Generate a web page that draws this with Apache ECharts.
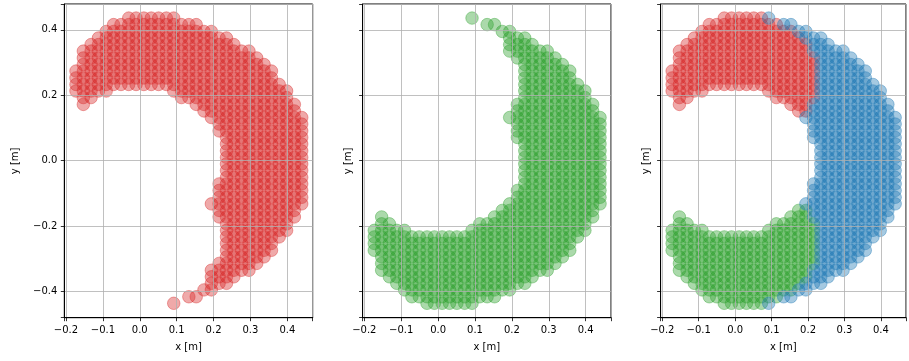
<!DOCTYPE html>
<html>
<head>
<meta charset="utf-8">
<script src="https://cdn.jsdelivr.net/npm/echarts@6/dist/echarts.min.js"></script>
<style>
  html, body { margin: 0; padding: 0; background: #fff; }
  #chart { width: 909px; height: 361px; }
</style>
</head>
<body>
<div id="chart"></div>
<script>
// grid positions of the sample points (metres)
const colX = [-0.173, -0.153, -0.132, -0.112, -0.091, -0.071, -0.051, -0.030, -0.010, 0.011,
  0.031, 0.051, 0.072, 0.092, 0.113, 0.133, 0.153, 0.174, 0.194, 0.215,
  0.235, 0.255, 0.276, 0.296, 0.317, 0.337, 0.357, 0.378, 0.398, 0.419, 0.439]
const rowY = [0.436, 0.416, 0.395, 0.375, 0.355, 0.335, 0.314, 0.294, 0.274, 0.253,
  0.233, 0.213, 0.193, 0.172, 0.152, 0.132, 0.112, 0.091, 0.071, 0.051,
  0.030, 0.010, -0.010, -0.030, -0.051, -0.071, -0.091, -0.112, -0.132, -0.152,
  -0.172, -0.193, -0.213, -0.233, -0.253, -0.274, -0.294, -0.314, -0.335, -0.355,
  -0.375, -0.395, -0.416, -0.436]

// runs of filled cells: [row, firstCol, lastCol]
const redRows = [[0,7,13],[1,5,16],[2,4,18],[3,3,20],[4,2,21],[5,1,23],[6,1,24],[7,1,25],[8,0,26],[9,0,26],[10,0,27],
  [11,0,4],[11,13,28],[12,1,2],[12,14,28],[13,1,1],[13,16,29],[14,17,29],[15,18,30],[16,19,30],[17,19,30],
  [18,20,30],[19,20,30],[20,20,30],[21,20,30],[22,20,30],[23,20,30],[24,20,30],[25,19,30],[26,19,30],[27,19,30],
  [28,18,30],[29,19,29],[30,19,29],[31,20,28],[32,20,28],[33,20,27],[34,20,26],[35,20,26],[36,20,25],[37,19,24],
  [38,18,23],[39,18,21],[40,18,20],[41,17,18],[42,15,16],[43,13,13]]

const greenRows = [[0,13,13],[1,15,16],[2,17,18],[3,18,20],[4,18,21],[5,18,23],[6,19,24],[7,20,25],[8,20,26],[9,20,26],
  [10,20,27],[11,20,28],[12,20,28],[13,19,29],[14,19,29],[15,18,30],[16,19,30],[17,19,30],[18,19,30],[19,20,30],
  [20,20,30],[21,20,30],[22,20,30],[23,20,30],[24,20,30],[25,20,30],[26,19,30],[27,19,30],[28,18,30],[29,17,29],
  [30,1,1],[30,16,29],[31,1,2],[31,14,28],[32,0,4],[32,13,28],[33,0,27],[34,0,26],[35,0,26],[36,1,25],
  [37,1,24],[38,1,23],[39,2,21],[40,3,20],[41,4,18],[42,5,16],[43,7,13]]

// clustered result (third panel)
const clusterRedRows = [[0,7,12],[1,5,14],[2,4,16],[3,3,17],[4,2,18],[5,1,18],[6,1,19],[7,1,19],[8,0,19],[9,0,19],
  [10,0,19],[11,0,4],[11,13,19],[12,1,2],[12,14,19],[13,1,1],[13,16,18],[14,17,18]]
const clusterGreenRows = [[29,17,18],[30,1,1],[30,16,18],[31,1,2],[31,14,19],[32,0,4],[32,13,19],[33,0,19],[34,0,19],
  [35,0,19],[36,1,19],[37,1,19],[38,1,18],[39,2,18],[40,3,17],[41,4,16],[42,5,14],[43,7,12]]
const clusterBlueRows = [[0,13,13],[1,15,16],[2,17,18],[3,18,20],[4,19,21],[5,19,23],[6,20,24],[7,20,25],[8,20,26],
  [9,20,26],[10,20,27],[11,20,28],[12,20,28],[13,19,29],[14,19,29],[15,18,30],[16,19,30],[17,19,30],[18,19,30],
  [19,20,30],[20,20,30],[21,20,30],[22,20,30],[23,20,30],[24,20,30],[25,19,30],[26,19,30],[27,19,30],[28,18,30],
  [29,19,29],[30,19,29],[31,20,28],[32,20,28],[33,20,27],[34,20,26],[35,20,26],[36,20,25],[37,20,24],[38,19,23],
  [39,19,21],[40,18,20],[41,17,18],[42,15,16],[43,13,13]]

const xTicks = [-0.2, -0.1, 0.0, 0.1, 0.2, 0.3, 0.4]
const yTicks = [-0.4, -0.2, 0.0, 0.2, 0.4]

function points(rows) {
  const out = []
  rows.forEach(([r, a, b]) => {
    for (let c = a; c <= b; c++) out.push([colX[c], rowY[r]])
  })
  return out
}

function fmt(v) {
  const hit = xTicks.concat(yTicks).some((t) => Math.abs(t - v) < 1e-6)
  if (!hit) return ''
  const s = Math.abs(v).toFixed(1)
  return v < -1e-9 ? '\u2212' + s : s
}

const font = 'DejaVu Sans'
const lefts = [64.3, 362.6, 660.6]

const grids = lefts.map((l) => ({
  left: l, top: 4, width: 248.4, height: 313.7,
  show: true, borderColor: '#000', borderWidth: 1, backgroundColor: 'transparent',
}))

const xAxes = lefts.map((l, k) => ({
  type: 'value', gridIndex: k, min: -0.2046, max: 0.4687, z: 3,
  name: 'x [m]', nameLocation: 'middle', nameGap: 25,
  nameTextStyle: { fontFamily: font, fontSize: 10, color: '#000' },
  axisLine: { show: true, onZero: false, lineStyle: { color: '#000', width: 1 } },
  axisTick: { show: true, inside: false, length: 3.5, lineStyle: { color: '#000', width: 0.8 } },
  axisLabel: { formatter: fmt, margin: 8, fontFamily: font, fontSize: 10, color: '#000' },
  splitLine: { show: true, lineStyle: { color: '#b0b0b0', width: 0.8 } },
}))

const yAxes = lefts.map((l, k) => ({
  type: 'value', gridIndex: k, min: -0.48, max: 0.479, z: 3,
  name: 'y [m]', nameLocation: 'middle', nameGap: k === 0 ? 44 : 9, nameRotate: 90,
  nameTextStyle: { fontFamily: font, fontSize: 10, color: '#000' },
  axisLine: { show: true, onZero: false, lineStyle: { color: '#000', width: 1 } },
  axisTick: { show: true, inside: false, length: 3.5, lineStyle: { color: '#000', width: 0.8 } },
  axisLabel: { show: k === 0, formatter: fmt, margin: 7, fontFamily: font, fontSize: 10, color: '#000' },
  splitLine: { show: true, lineStyle: { color: '#b0b0b0', width: 0.8 } },
}))

function scatter(rows, color, k) {
  return {
    type: 'scatter', xAxisIndex: k, yAxisIndex: k, symbolSize: 12.5, z: 2,
    itemStyle: { color: color, opacity: 1, borderColor: color, borderWidth: 1 },
    emphasis: { disabled: true },
    data: points(rows),
  }
}

const RED = 'rgba(214,39,40,0.4)'
const GREEN = 'rgba(44,160,44,0.4)'
const BLUE = 'rgba(31,119,180,0.4)'

const chart = echarts.init(document.getElementById('chart'), null, { renderer: 'canvas' })
chart.setOption({
  animation: false,
  grid: grids,
  xAxis: xAxes,
  yAxis: yAxes,
  series: [
    scatter(redRows, RED, 0),
    scatter(greenRows, GREEN, 1),
    scatter(clusterRedRows, RED, 2),
    scatter(clusterGreenRows, GREEN, 2),
    scatter(clusterBlueRows, BLUE, 2),
  ],
})
</script>
</body>
</html>
